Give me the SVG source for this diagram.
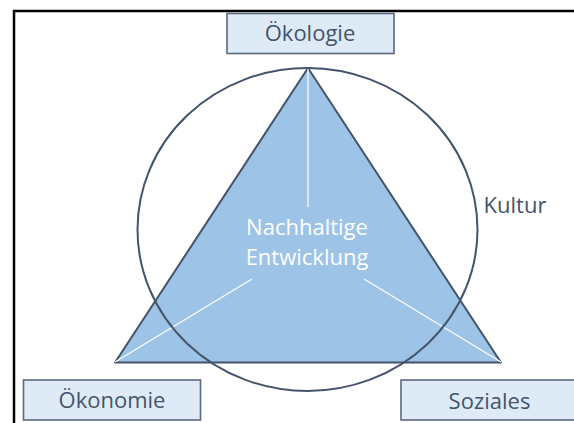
<svg xmlns="http://www.w3.org/2000/svg" width="574" height="423" viewBox="0 0 574 423">
<style>
.box{fill:#deebf7;stroke:#5b6a80;stroke-width:1.6}
.lbl{font-family:"Open Sans","Noto Sans",sans-serif;font-size:22px;fill:#44546a;text-anchor:middle}
.in{font-family:"Open Sans","Noto Sans",sans-serif;font-size:22px;fill:#ffffff;text-anchor:middle}
.wl{stroke:#ffffff;stroke-width:1.2;fill:none}
</style>
<rect x="0" y="0" width="574" height="423" fill="#ffffff"/>
<path d="M14 423 V11 H574" fill="none" stroke="#000" stroke-width="2.5"/>
<g id="triangle">
<polygon points="308,68 115,362.5 501,362.5" fill="#9dc3e6" stroke="#44546a" stroke-width="2" stroke-linejoin="round"/>
</g>
<g id="connectors">
<line class="wl" x1="308" y1="68" x2="308" y2="207"/>
<line class="wl" x1="115" y1="362" x2="252" y2="279"/>
<line class="wl" x1="501" y1="362" x2="364" y2="279"/>
</g>
<g id="kultur">
<ellipse cx="307.5" cy="229.5" rx="170" ry="161.5" fill="none" stroke="#44546a" stroke-width="2"/>
<text class="lbl" x="515" y="213">Kultur</text>
</g>
<g id="center">
<text class="in" x="307" y="235">Nachhaltige</text>
<text class="in" x="307" y="265">Entwicklung</text>
</g>
<g id="oekologie">
<rect class="box" x="227" y="13.5" width="167" height="40"/>
<text class="lbl" x="310" y="41">Ökologie</text>
</g>
<g id="oekonomie">
<rect class="box" x="23.5" y="380" width="177" height="40"/>
<text class="lbl" x="112" y="408">Ökonomie</text>
</g>
<g id="soziales">
<rect class="box" x="401" y="380" width="190" height="40"/>
<text class="lbl" x="489.5" y="409">Soziales</text>
</g>
</svg>
